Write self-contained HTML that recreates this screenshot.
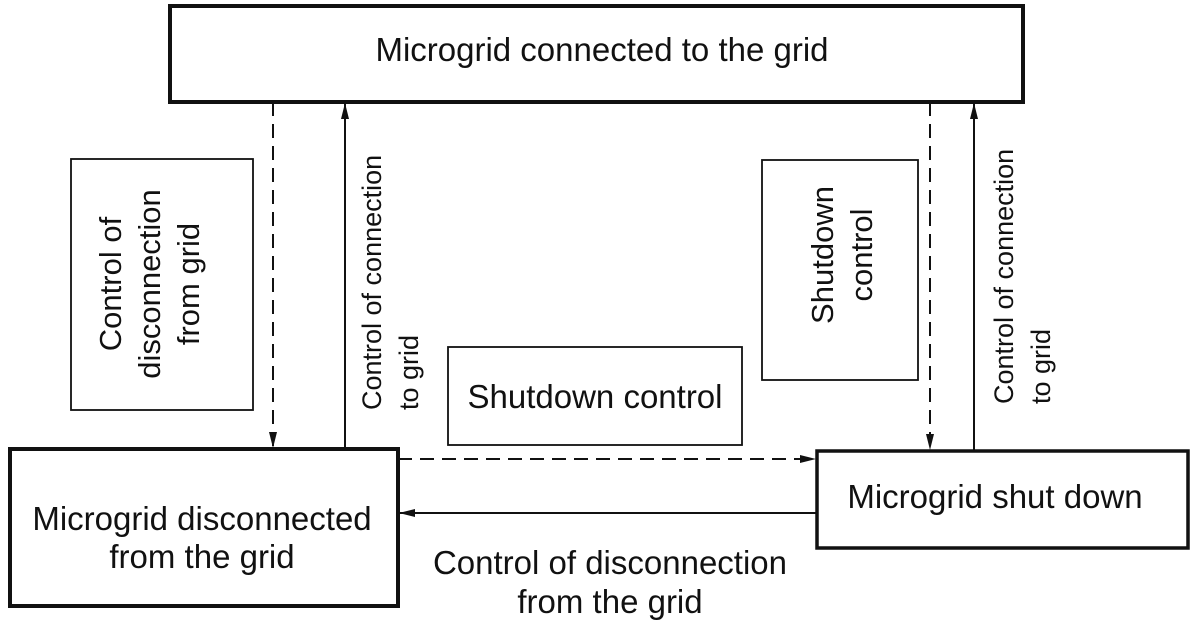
<!DOCTYPE html>
<html><head><meta charset="utf-8"><style>
html,body{margin:0;padding:0;background:#fff}
svg{display:block}
text{font-family:"Liberation Sans",Arial,sans-serif;fill:#111}
</style></head><body>
<svg width="1194" height="635" viewBox="0 0 1194 635" xmlns="http://www.w3.org/2000/svg">
<defs>
<marker id="a" markerWidth="16" markerHeight="10" refX="15" refY="5" orient="auto" markerUnits="userSpaceOnUse">
<path d="M0,1 L16,5 L0,9 Z" fill="#111"/></marker>
</defs>
<g fill="none" stroke="#111">
<rect x="170" y="6" width="853" height="96" stroke-width="4"/>
<rect x="10" y="449" width="388" height="157" stroke-width="4"/>
<rect x="817" y="451" width="371" height="97" stroke-width="3.5"/>
<rect x="71" y="159" width="182" height="251" stroke-width="1.8"/>
<rect x="448" y="347" width="294" height="98" stroke-width="1.8"/>
<rect x="762" y="160" width="156" height="220" stroke-width="1.8"/>
<line x1="273" y1="102" x2="273" y2="447" stroke-width="2" stroke-dasharray="14,8" marker-end="url(#a)"/>
<line x1="345" y1="448" x2="345" y2="104" stroke-width="2" marker-end="url(#a)"/>
<line x1="930" y1="102" x2="930" y2="449" stroke-width="2" stroke-dasharray="14,8" marker-end="url(#a)"/>
<line x1="974" y1="451" x2="974" y2="104" stroke-width="2" marker-end="url(#a)"/>
<line x1="398" y1="459" x2="815" y2="459" stroke-width="2" stroke-dasharray="14,8" marker-end="url(#a)"/>
<line x1="817" y1="513" x2="400" y2="513" stroke-width="2" marker-end="url(#a)"/>
</g>
<text x="602" y="61" font-size="33" text-anchor="middle">Microgrid connected to the grid</text>
<text x="202" y="530" font-size="33" text-anchor="middle">Microgrid disconnected</text>
<text x="202" y="568" font-size="33" text-anchor="middle">from the grid</text>
<text x="995" y="508" font-size="33" text-anchor="middle">Microgrid shut down</text>
<text x="595" y="408" font-size="33" text-anchor="middle">Shutdown control</text>
<text x="610" y="574" font-size="33" text-anchor="middle">Control of disconnection</text>
<text x="610" y="613" font-size="33" text-anchor="middle">from the grid</text>
<g transform="translate(162,284) rotate(-90)" font-size="31" text-anchor="middle">
<text x="0" y="-41">Control of</text>
<text x="0" y="-2">disconnection</text>
<text x="0" y="37">from grid</text>
</g>
<g transform="translate(840,255) rotate(-90)" font-size="31" text-anchor="middle">
<text x="0" y="-7">Shutdown</text>
<text x="0" y="32">control</text>
</g>
<g transform="translate(381,410) rotate(-90)" font-size="27">
<text x="0" y="0">Control of connection</text>
<text x="0" y="37">to grid</text>
</g>
<g transform="translate(1013,404) rotate(-90)" font-size="27">
<text x="0" y="0">Control of connection</text>
<text x="0" y="37">to grid</text>
</g>
</svg>
</body></html>
